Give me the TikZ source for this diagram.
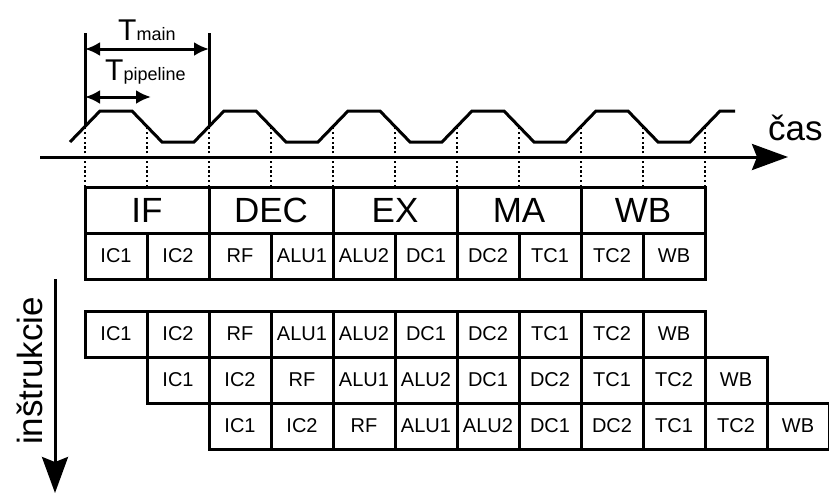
\documentclass[tikz,border=0pt]{standalone}
\usepackage{fontspec}
\setmainfont{Liberation Sans}
\usetikzlibrary{arrows.meta, positioning}

\begin{document}
\begin{tikzpicture}[
x=1pt, y=-1pt,
cell/.style={rectangle, draw, line width=3pt, inner sep=0pt, outer sep=0pt, minimum width=62pt, minimum height=46pt, font=\fontsize{20}{22}\selectfont},
stage/.style={cell, minimum width=124pt, font=\fontsize{35}{38}\selectfont},
wave/.style={line width=3pt, line join=miter},
guide/.style={line width=2.4pt, dash pattern=on 2.2pt off 2.6pt},
dim/.style={{Latex[length=15pt,width=14pt]}-{Latex[length=15pt,width=14pt]}, line width=3pt},
axis/.style={-{Stealth[length=36pt,width=26pt,inset=5pt]}, line width=3pt}
]
\useasboundingbox (0,0) rectangle (829,493);

% stages
\node[stage, anchor=north west] (hIF) at (85,187) {IF};
\node[stage, right=0pt of hIF] (hDEC) {DEC};
\node[stage, right=0pt of hDEC] (hEX) {EX};
\node[stage, right=0pt of hEX] (hMA) {MA};
\node[stage, right=0pt of hMA] (hWB) {WB};

\node[cell, anchor=north west] (a1) at (hIF.south west) {IC1};
\node[cell, right=0pt of a1] (a2) {IC2};
\node[cell, right=0pt of a2] (a3) {RF};
\node[cell, right=0pt of a3] (a4) {ALU1};
\node[cell, right=0pt of a4] (a5) {ALU2};
\node[cell, right=0pt of a5] (a6) {DC1};
\node[cell, right=0pt of a6] (a7) {DC2};
\node[cell, right=0pt of a7] (a8) {TC1};
\node[cell, right=0pt of a8] (a9) {TC2};
\node[cell, right=0pt of a9] (a10) {WB};

% instructions
\node[cell, anchor=north west] (b1) at (85,311) {IC1};
\node[cell, right=0pt of b1] (b2) {IC2};
\node[cell, right=0pt of b2] (b3) {RF};
\node[cell, right=0pt of b3] (b4) {ALU1};
\node[cell, right=0pt of b4] (b5) {ALU2};
\node[cell, right=0pt of b5] (b6) {DC1};
\node[cell, right=0pt of b6] (b7) {DC2};
\node[cell, right=0pt of b7] (b8) {TC1};
\node[cell, right=0pt of b8] (b9) {TC2};
\node[cell, right=0pt of b9] (b10) {WB};

\node[cell, anchor=north west] (c1) at (b1.south east) {IC1};
\node[cell, right=0pt of c1] (c2) {IC2};
\node[cell, right=0pt of c2] (c3) {RF};
\node[cell, right=0pt of c3] (c4) {ALU1};
\node[cell, right=0pt of c4] (c5) {ALU2};
\node[cell, right=0pt of c5] (c6) {DC1};
\node[cell, right=0pt of c6] (c7) {DC2};
\node[cell, right=0pt of c7] (c8) {TC1};
\node[cell, right=0pt of c8] (c9) {TC2};
\node[cell, right=0pt of c9] (c10) {WB};

\node[cell, anchor=north west] (d1) at (c1.south east) {IC1};
\node[cell, right=0pt of d1] (d2) {IC2};
\node[cell, right=0pt of d2] (d3) {RF};
\node[cell, right=0pt of d3] (d4) {ALU1};
\node[cell, right=0pt of d4] (d5) {ALU2};
\node[cell, right=0pt of d5] (d6) {DC1};
\node[cell, right=0pt of d6] (d7) {DC2};
\node[cell, right=0pt of d7] (d8) {TC1};
\node[cell, right=0pt of d8] (d9) {TC2};
\node[cell, right=0pt of d9] (d10) {WB};

% clock
\draw[wave] (70,142) foreach \k in {1,...,5} { -- ++(30,-31) -- ++(32,0) -- ++(30,31) -- ++(32,0) } -- ++(30,-31) -- ++(15,0);
\coordinate (lvl) at (0,126.5);
\foreach \h in {hIF, hDEC, hEX, hMA, hWB} {
  \draw[guide] (\h.north west) -- (\h.north west |- lvl);
  \draw[guide] (\h.north) -- (\h.north |- lvl);
}
\draw[guide] (hWB.north east) -- (hWB.north east |- lvl);

% periods
\coordinate (ttop) at (0,33);
\coordinate (ymain) at (0,49);
\coordinate (pl) at (85,97);
\coordinate (pr) at (151,97);
\draw[line width=3pt] (hIF.north west |- ttop) -- (hIF.north west |- lvl);
\draw[line width=3pt] (hDEC.north west |- ttop) -- (hDEC.north west |- lvl);
\draw[dim] (hIF.north west |- ymain) -- (hDEC.north west |- ymain);
\draw[dim] (pl) -- (pr);
\node[anchor=base west, inner sep=0pt] (lmain) at (118,40) {\fontsize{30}{30}\selectfont T\fontsize{18}{18}\selectfont main};
\node[anchor=base west, inner sep=0pt] (lpipe) at (105,80) {\fontsize{30}{30}\selectfont T\fontsize{18}{18}\selectfont pipeline};

% axes
\coordinate (ax0) at (40,157);
\coordinate (ax1) at (788,157);
\draw[axis] (ax0) -- (ax1);
\node[anchor=base west, inner sep=0pt, font=\fontsize{35}{38}\selectfont] (lcas) at (768,140) {čas};

\coordinate (iy0) at (55,279);
\coordinate (iy1) at (55,493);
\draw[axis] (iy0) -- (iy1);
\node[rotate=90, anchor=base, inner sep=0pt, font=\fontsize{35}{38}\selectfont] (linstr) at (42,371) {inštrukcie};

\end{tikzpicture}
\end{document}
